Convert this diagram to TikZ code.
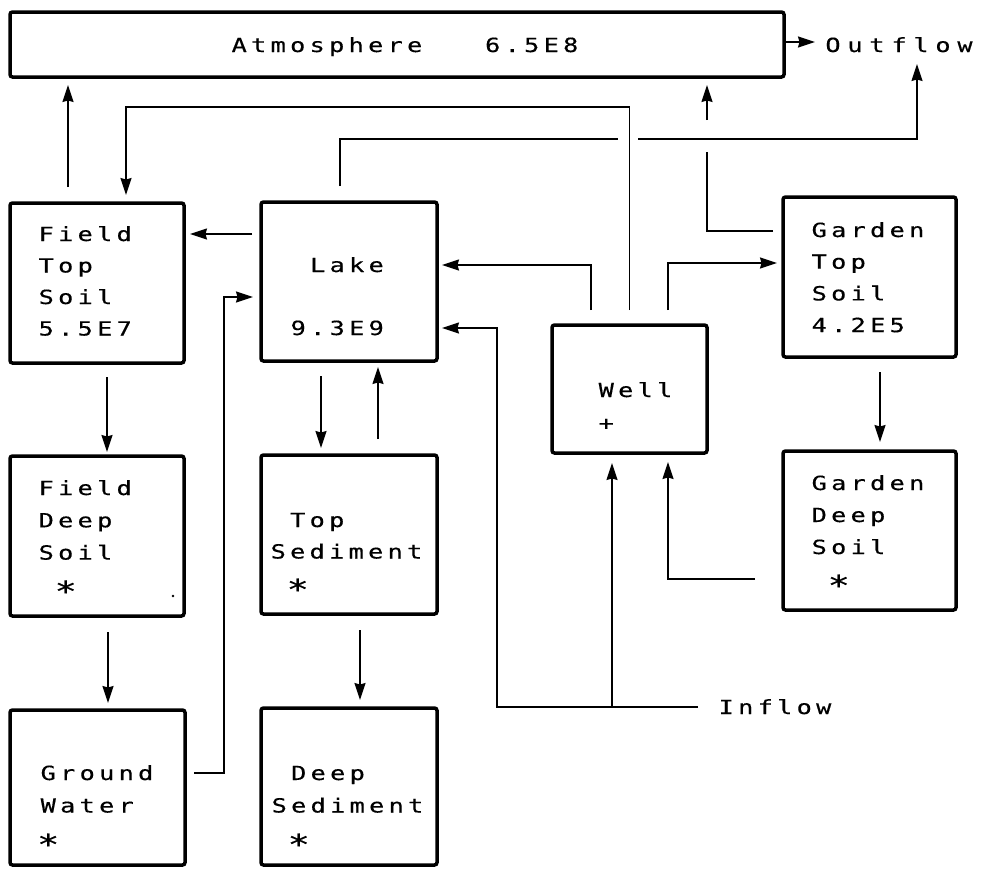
\documentclass[tikz,border=0pt]{standalone}
\usepackage{fontspec}
\usepackage{graphicx}
\newfontfamily\plotfont[FakeStretch=1.3,FakeBold=0.35]{DejaVu Sans Mono}
\usetikzlibrary{arrows.meta}
\newlength\cellw
\setlength\cellw{19.5pt}
\def\cellsend{\cellsend}
\def\cellloop#1{\ifx#1\cellsend\else\makebox[\cellw][c]{#1}\expandafter\cellloop\fi}
\newcommand\cells[1]{\cellloop#1\cellsend}
\newcommand\bigast{\raisebox{-9.5pt}{\scalebox{1.45}{*}}}
\newcommand\boxlines[5]{%
  \foreach \l [count=\i] in {#5} {\node[txt] (#1-\i) at (#2, #3+\i*#4-#4) {\expandafter\cells\expandafter{\l}};}}
\begin{document}
\begin{tikzpicture}[x=1pt,y=-1pt,
  cbox/.style={draw, line width=3.5pt, rounded corners=2.5pt, inner sep=0pt, outer sep=0pt},
  conn/.style={line width=1.3pt},
  arr/.style={line width=1.3pt, -{Stealth[length=17pt,width=11pt,inset=1.5pt]}},
  txt/.style={anchor=base west, inner sep=0pt, outer sep=0pt, font=\plotfont\fontsize{19.5pt}{21pt}\selectfont}]
\useasboundingbox (0,0) rectangle (983,868);

% boxes
\node[cbox, minimum width=774pt, minimum height=65pt] (atm) at (397,44.5) {};
\node[cbox, minimum width=174pt, minimum height=160pt] (fts) at (97,283) {};
\node[cbox, minimum width=176pt, minimum height=159pt] (lake) at (349,281.5) {};
\node[cbox, minimum width=155pt, minimum height=128pt] (well) at (629.5,389) {};
\node[cbox, minimum width=173pt, minimum height=160pt] (gts) at (869.5,277) {};
\node[cbox, minimum width=173pt, minimum height=159pt] (gds) at (869.5,530.5) {};
\node[cbox, minimum width=174pt, minimum height=160pt] (fds) at (97,536) {};
\node[cbox, minimum width=176pt, minimum height=159pt] (tsed) at (349,534.5) {};
\node[cbox, minimum width=175pt, minimum height=155pt] (gw) at (97.5,787.5) {};
\node[cbox, minimum width=176pt, minimum height=157pt] (dsed) at (349,786.5) {};

% texts
\node[txt] (atmtext) at (229.5,52) {\cells{Atmosphere~~~6.5E8}};
\node[txt] (outflow) at (822,52) {\setlength\cellw{22pt}\cells{Outflow}};
\node[txt] (inflow) at (716.5,714) {\cells{Inflow}};
\boxlines{ftst}{36.5}{241}{31.5}{Field,Top,Soil,5.5E7}
\boxlines{laket}{288.5}{272}{63}{~Lake,9.3E9}
\boxlines{wellt}{596.5}{397}{33}{Well,+}
\boxlines{gtst}{809.5}{237}{31.7}{Garden,Top,Soil,4.2E5}
\boxlines{gdst}{809.5}{490}{32}{Garden,Deep,Soil,~\bigast}
\boxlines{fdst}{36.5}{495}{32.3}{Field,Deep,Soil,~\bigast}
\boxlines{tsedt}{268.5}{527}{31.5}{~Top,Sediment,~\bigast}
\boxlines{gwt}{38.5}{780}{32.5}{Ground,Water,\bigast}
\boxlines{dsedt}{269.5}{780}{32.5}{~Deep,Sediment,~\bigast}
\fill (173,596) circle (1.3pt);

% guide coordinates
\coordinate (x68) at (68,0);
\coordinate (x107) at (107,0);
\coordinate (x108) at (108,0);
\coordinate (x126) at (126,0);
\coordinate (x224) at (224,0);
\coordinate (x321) at (321,0);
\coordinate (x340) at (340,0);
\coordinate (x360) at (360,0);
\coordinate (x378) at (378,0);
\coordinate (x497) at (497,0);
\coordinate (x591) at (591,0);
\coordinate (x612) at (612,0);
\coordinate (x618) at (618,0);
\coordinate (x638) at (638,0);
\coordinate (x668) at (668,0);
\coordinate (x707) at (707,0);
\coordinate (x880) at (880,0);
\coordinate (x917) at (917,0);
\coordinate (y42) at (0,42);
\coordinate (y107) at (0,107);
\coordinate (y120) at (0,120);
\coordinate (y139) at (0,139);
\coordinate (y152) at (0,152);
\coordinate (y231) at (0,231);
\coordinate (y234) at (0,234);
\coordinate (y263) at (0,263);
\coordinate (y265) at (0,265);
\coordinate (y297) at (0,297);
\coordinate (y328) at (0,328);
\coordinate (y579) at (0,579);
\coordinate (y707) at (0,707);
\coordinate (y773) at (0,773);

% connectors
\draw[arr, shorten <=16pt, shorten >=8pt] (fts.north -| x68) -- (atm.south -| x68);
\draw[arr, shorten <=15pt, shorten >=8pt] (well.north) -- (well.north |- y107) -| (fts.north -| x126);
\draw[conn, shorten <=16pt] (lake.north -| x340) -- (x340 |- y139) -- (x618 |- y139);
\draw[arr, shorten >=12pt] (x638 |- y139) -| (outflow.base -| x917);
\draw[conn, shorten <=10pt] (gts.west |- y231) -- (x707 |- y231) -- (x707 |- y152);
\draw[arr, shorten >=8pt] (x707 |- y120) -- (atm.south -| x707);
\draw[arr, shorten <=15pt, shorten >=5pt] (well.north -| x591) |- (lake.east |- y265);
\draw[arr, shorten <=15pt, shorten >=6pt] (well.north -| x668) |- (gts.west |- y263);
\draw[arr, shorten <=9pt, shorten >=6pt] (lake.west |- y234) -- (fts.east |- y234);
\draw[arr, shorten <=9pt, shorten >=8pt] (gw.east |- y773) -- (x224 |- y773) -- (x224 |- y297) -- (lake.west |- y297);
\draw[arr, shorten <=18.5pt, shorten >=5pt] (inflow.west |- y707) -- (x497 |- y707) -- (x497 |- y328) -- (lake.east |- y328);
\draw[arr, shorten >=10pt] (x612 |- y707) -- (well.south -| x612);
\draw[arr, shorten <=28pt, shorten >=9pt] (gds.west |- y579) -| (well.south -| x668);
\draw[arr, shorten <=14pt, shorten >=4pt] (fts.south -| x107) -- (fds.north -| x107);
\draw[arr, shorten <=16pt, shorten >=7pt] (fds.south -| x108) -- (gw.north -| x108);
\draw[arr, shorten <=15pt, shorten >=7pt] (lake.south -| x321) -- (tsed.north -| x321);
\draw[arr, shorten <=16pt, shorten >=6pt] (tsed.north -| x378) -- (lake.south -| x378);
\draw[arr, shorten <=16pt, shorten >=8pt] (tsed.south -| x360) -- (dsed.north -| x360);
\draw[arr, shorten <=15pt, shorten >=9pt] (gts.south -| x880) -- (gds.north -| x880);
\draw[arr, shorten <=2pt, shorten >=7pt] (atm.east |- y42) -- (outflow.west |- y42);
\end{tikzpicture}
\end{document}
